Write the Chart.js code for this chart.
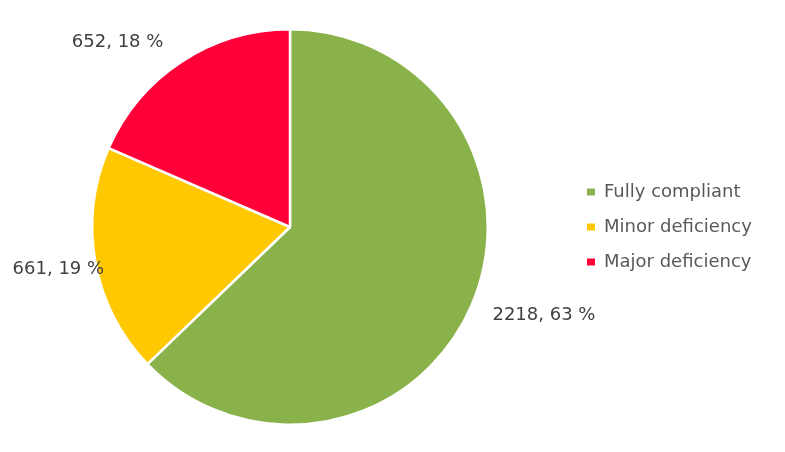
<!DOCTYPE html>
<html>
<head>
<meta charset="utf-8">
<script src="https://cdn.jsdelivr.net/npm/chart.js@4.4.1/dist/chart.umd.min.js"></script>
<style>
  html, body { margin: 0; padding: 0; background: #ffffff; }
  #wrap { width: 785px; height: 452px; }
</style>
</head>
<body>
<div id="wrap"><canvas id="c" width="785" height="452"></canvas></div>
<script>
const categories = ["Fully compliant", "Minor deficiency", "Major deficiency"];
const counts = [2218, 661, 652];
const percents = [63, 19, 18];
const colors = ["#8AB24B", "#FFC800", "#FF0038"];
// label offset from the outer midpoint of each slice (px)
const labelOffsets = [[72, 11], [-37, 7], [-64, -19]];

const FONT = "'DejaVu Sans', Verdana, sans-serif";

const fixLegend = {
  id: 'fixLegend',
  beforeInit(chart) {
    const lg = chart.legend;
    if (!lg) return;
    const orig = lg.fit.bind(lg);
    lg.fit = function () { orig(); this.width = 215; };
  }
};

const pieLabels = {
  id: 'pieLabels',
  afterDatasetsDraw(chart) {
    const ctx = chart.ctx;
    const meta = chart.getDatasetMeta(0);
    ctx.save();
    ctx.font = "18px " + FONT;
    ctx.fillStyle = "#404040";
    ctx.textAlign = "center";
    ctx.textBaseline = "middle";
    meta.data.forEach((arc, i) => {
      const p = arc.getProps(['x', 'y', 'startAngle', 'endAngle', 'outerRadius'], true);
      const mid = (p.startAngle + p.endAngle) / 2;
      const ax = p.x + Math.cos(mid) * p.outerRadius;
      const ay = p.y + Math.sin(mid) * p.outerRadius;
      const off = labelOffsets[i];
      ctx.fillText(counts[i] + ", " + percents[i] + " %", ax + off[0], ay + off[1]);
    });
    ctx.restore();
  }
};

new Chart(document.getElementById('c'), {
  type: 'pie',
  data: {
    labels: categories,
    datasets: [{
      data: counts,
      backgroundColor: colors,
      borderColor: "#ffffff",
      borderWidth: 2.5,
      hoverOffset: 0
    }]
  },
  options: {
    responsive: false,
    animation: false,
    devicePixelRatio: 1,
    layout: { padding: { left: 10, right: 0, top: 28, bottom: 26 } },
    plugins: {
      tooltip: { enabled: false },
      legend: {
        position: 'right',
        align: 'center',
        labels: {
          boxWidth: 8,
          boxHeight: 7,
          padding: 17,
          color: "#595959",
          font: { family: FONT, size: 18 },
          generateLabels(chart) {
            return categories.map((c, i) => ({
              text: c,
              fillStyle: colors[i],
              strokeStyle: colors[i],
              lineWidth: 0,
              hidden: false,
              index: i,
              fontColor: "#595959"
            }));
          }
        }
      }
    }
  },
  plugins: [fixLegend, pieLabels]
});
</script>
</body>
</html>
